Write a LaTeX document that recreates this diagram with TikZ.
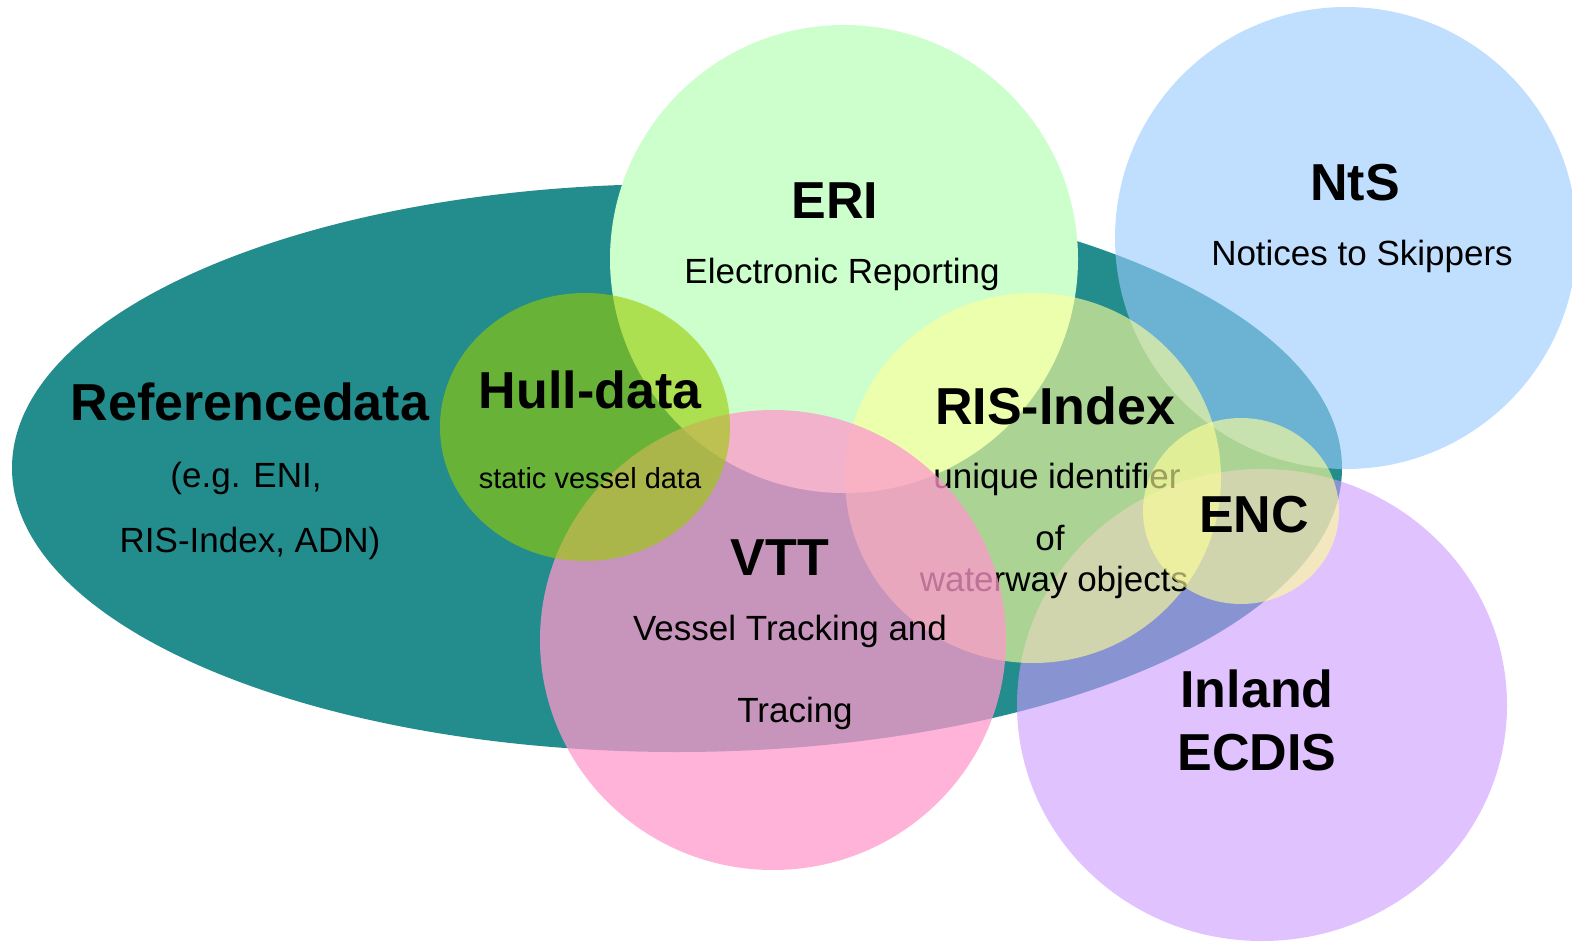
\documentclass[tikz,border=0pt]{standalone}
\usepackage{fontspec}
\setmainfont{Liberation Sans}

\definecolor{refteal}{RGB}{35,140,140}
\definecolor{erigreen}{RGB}{204,255,204}
\definecolor{ntsblue}{RGB}{153,204,255}
\definecolor{ecdislilac}{RGB}{204,153,255}
\definecolor{hullolive}{RGB}{153,204,0}
\definecolor{risyellow}{RGB}{255,255,153}
\definecolor{vttpink}{RGB}{255,153,204}

\tikzset{
  head/.style={anchor=base, font=\fontsize{52}{60}\selectfont\bfseries},
  sub/.style={anchor=base, font=\fontsize{35}{42}\selectfont},
  blob/.style={fill=#1, fill opacity=.7}
}

\begin{document}
\begin{tikzpicture}[x=1pt, y=-1pt]
\useasboundingbox (0,0) rectangle (1572,942);

\fill[refteal] (677,468) ellipse [x radius=665pt, y radius=284pt];
\node[head] (refdata) at (250,420) {Referencedata};
\node[sub] (refeg) at (246,487) {(e.g. ENI,};
\node[sub] (refadn) at (250,552) {RIS-Index, ADN)};

\fill[erigreen] (844,259) circle [radius=234pt];
\node[head] (eri) at (835,218) {ERI};
\node[sub] (erisub) at (842,283) {Electronic Reporting};

\fill[blob=ntsblue, fill opacity=.62] (1346,238) circle [radius=231pt];
\node[head] (nts) at (1355,200) {NtS};
\node[sub] (ntssub) at (1362,265) {Notices to Skippers};

\fill[blob=ecdislilac, fill opacity=.6] (1262,705) ellipse [x radius=245pt, y radius=236pt];
\node[head] (inland) at (1257,707) {Inland};
\node[head] (ecdis) at (1257,770) {ECDIS};

\fill[blob=risyellow, fill opacity=.62] (1033,478) ellipse [x radius=188pt, y radius=185pt];
\node[head] (ris) at (1055,424) {RIS-Index};
\node[sub] (rissub) at (1057,488) {unique identifier};
\node[sub] (risof) at (1050,550) {of};
\node[sub] (risobj) at (1054,591) {waterway objects};

\fill[blob=risyellow, fill opacity=.62] (1241,511) ellipse [x radius=98pt, y radius=93pt];
\node[head] (enc) at (1254,532) {ENC};

\fill[blob=vttpink, fill opacity=.75] (773,640) ellipse [x radius=233pt, y radius=230pt];
\node[head] (vtt) at (780,575) {VTT};
\node[sub] (vttsub) at (790,640) {Vessel Tracking and};
\node[sub] (vtttr) at (795,722) {Tracing};

\fill[blob=hullolive, fill opacity=.6] (585,427) ellipse [x radius=145pt, y radius=134pt];
\node[head] (hull) at (590,408) {Hull-data};
\node[anchor=base, font=\fontsize{29}{35}\selectfont] (hullsub) at (590,488) {static vessel data};
\end{tikzpicture}
\end{document}
